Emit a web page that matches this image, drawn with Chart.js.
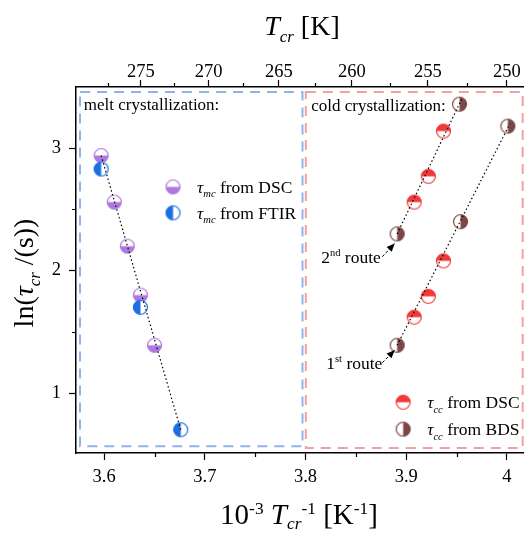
<!DOCTYPE html>
<html><head><meta charset="utf-8">
<script src="https://cdn.jsdelivr.net/npm/chart.js@4/dist/chart.umd.min.js"></script>
<style>html,body{margin:0;padding:0;background:#fff;overflow:hidden;width:524px;height:533px}
#wrap{width:540px;height:533px}</style></head><body><div id="wrap"><canvas id="c" width="540" height="533"></canvas></div>
<script>
// ---- data ----
const meltDscX  = [3.597, 3.610, 3.623, 3.636, 3.650];
const meltDscY  = [2.94, 2.56, 2.20, 1.80, 1.39];
const meltFtirX = [3.597, 3.636, 3.676];
const meltFtirY = [2.83, 1.70, 0.70];
const coldDscX  = [3.908, 3.922, 3.937, 3.908, 3.922, 3.937];
const coldDscY  = [2.56, 2.77, 3.14, 1.62, 1.79, 2.08];
const coldBdsX  = [3.891, 3.953, 3.891, 3.954, 4.001];
const coldBdsY  = [2.30, 3.36, 1.39, 2.40, 3.18];
const meltFitX  = [3.597, 3.676];
const meltFitY  = [2.94, 0.70];
const route2FitX = [3.891, 3.955];
const route2FitY = [2.30, 3.40];
const route1FitX = [3.891, 4.003];
const route1FitY = [1.39, 3.20];
const xTicks = [3.6, 3.7, 3.8, 3.9, 4.0];
const xMinor = [3.65, 3.75, 3.85, 3.95];
const yTicks = [1, 2, 3];
const yMinor = [1.5, 2.5];
const topTicksK = [275, 270, 265, 260, 255, 250];
const topMinorK = [277.5, 272.5, 267.5, 262.5, 257.5, 252.5];

const FAM = '"Liberation Serif","Times New Roman",serif';
const C = {purple:'#ad78e0', blue:'#1b6fe0', red:'#f03a3a', brown:'#7b4747', boxBlue:'#8fb3ec', boxRed:'#f1a1a1'};

function marker(color, half){
  const cv = document.createElement('canvas'); cv.width = 17; cv.height = 17;
  const g = cv.getContext('2d'); const r = 7, c = 8.5;
  g.beginPath(); g.arc(c,c,r,0,Math.PI*2); g.fillStyle='#fff'; g.fill();
  g.save(); g.beginPath(); g.arc(c,c,r,0,Math.PI*2); g.clip();
  g.fillStyle=color;
  if(half==='bottom') g.fillRect(0,c,17,9);
  if(half==='top') g.fillRect(0,0,17,c);
  if(half==='left') g.fillRect(0,0,c,17);
  if(half==='right') g.fillRect(c,0,9,17);
  g.restore();
  g.beginPath(); g.arc(c,c,r,0,Math.PI*2); g.strokeStyle=color; g.lineWidth=1.2; g.stroke();
  return cv;
}
const mk = {
  meltDsc: marker(C.purple,'bottom'),
  meltFtir: marker(C.blue,'left'),
  coldDsc: marker(C.red,'top'),
  coldBds: marker(C.brown,'right')
};
const pts = (xs, ys) => xs.map((x,i)=>({x, y: ys[i]}));

// decorations (data coordinates)
const panels = [
  {x0:3.576, x1:3.797, y0:3.46, y1:0.565, color:C.boxBlue},
  {x0:3.8003, x1:4.0157, y0:3.46, y1:0.55, color:C.boxRed}
];
const panelLabels = [
  {text:'melt crystallization:', x:3.5798, y:3.313},
  {text:'cold crystallization:', x:3.8056, y:3.305}
];
const legends = [
  {img:mk.meltDsc, x:3.6684, y:2.684, sub:'mc', label:' from DSC'},
  {img:mk.meltFtir, x:3.6684, y:2.472, sub:'mc', label:' from FTIR'},
  {img:mk.coldDsc, x:3.897, y:0.925, sub:'cc', label:' from DSC'},
  {img:mk.coldBds, x:3.897, y:0.705, sub:'cc', label:' from BDS'}
];
const routes = [
  {num:'2', sup:'nd', x:3.8156, y:2.064, ax0:3.8763, ay0:2.113, ax1:3.8885, ay1:2.222},
  {num:'1', sup:'st', x:3.8206, y:1.199, ax0:3.8763, ay0:1.248, ax1:3.8885, ay1:1.350}
];

function rich(ctx, segs, x, y, base, align, subK){
  let w = 0; const sk = subK || 0.26;
  const parts = segs.map(s=>{
    const size = (s.sub||s.sup) ? base*0.6 : base;
    const font = (s.it?'italic ':'') + size + 'px ' + FAM;
    ctx.font = font; const mw = ctx.measureText(s.t).width; w += mw;
    return {s, font, mw, dy: s.sub ? base*sk : (s.sup ? -base*0.36 : 0)};
  });
  let cx = align==='center' ? x - w/2 : x;
  ctx.textAlign='left'; ctx.textBaseline='alphabetic'; ctx.fillStyle='#000';
  for(const p of parts){ ctx.font=p.font; ctx.fillText(p.s.t, cx, y+p.dy); cx += p.mw; }
}

const deco = {
  id:'deco',
  beforeDatasetsDraw(chart){
    const {ctx, scales:{x,y}} = chart;
    ctx.save(); ctx.lineWidth=2; ctx.setLineDash([10,7]);
    for(const p of panels){
      ctx.strokeStyle=p.color;
      const l=x.getPixelForValue(p.x0), r=x.getPixelForValue(p.x1), t=y.getPixelForValue(p.y0), b=y.getPixelForValue(p.y1);
      ctx.strokeRect(l,t,r-l,b-t);
    }
    ctx.restore();
  },
  afterDatasetsDraw(chart){
    const {ctx, scales:{x,y}} = chart;
    ctx.save();
    for(const p of panelLabels){
      rich(ctx,[{t:p.text}], x.getPixelForValue(p.x), y.getPixelForValue(p.y), 17, 'left');
    }
    for(const L of legends){
      const px=x.getPixelForValue(L.x), py=y.getPixelForValue(L.y);
      ctx.drawImage(L.img, px-8.5, py-8.5);
      rich(ctx,[{t:'τ',it:true},{t:L.sub,it:true,sub:true},{t:L.label}], px+24, py+6, 17.5, 'left');
    }
    for(const R of routes){
      rich(ctx,[{t:R.num},{t:R.sup,sup:true},{t:' route'}], x.getPixelForValue(R.x), y.getPixelForValue(R.y), 17.5, 'left');
      const x0=x.getPixelForValue(R.ax0), y0=y.getPixelForValue(R.ay0), x1=x.getPixelForValue(R.ax1), y1=y.getPixelForValue(R.ay1);
      ctx.strokeStyle='#000'; ctx.fillStyle='#000'; ctx.lineWidth=1; ctx.setLineDash([3,2]);
      ctx.beginPath(); ctx.moveTo(x0,y0); ctx.lineTo(x1,y1); ctx.stroke(); ctx.setLineDash([]);
      const a=Math.atan2(y1-y0,x1-x0), hl=8, hw=3.5;
      ctx.beginPath(); ctx.moveTo(x1,y1);
      ctx.lineTo(x1-hl*Math.cos(a)+hw*Math.sin(a), y1-hl*Math.sin(a)-hw*Math.cos(a));
      ctx.lineTo(x1-hl*Math.cos(a)-hw*Math.sin(a), y1-hl*Math.sin(a)+hw*Math.cos(a));
      ctx.closePath(); ctx.fill();
    }
    ctx.restore();
  },
  afterDraw(chart){
    const {ctx, chartArea:a, scales:{x,y,x2}} = chart;
    ctx.save(); ctx.strokeStyle='#000'; ctx.lineWidth=1.2; ctx.setLineDash([]);
    ctx.beginPath();
    for(const v of xMinor){ const p=Math.round(x.getPixelForValue(v))+0.5; ctx.moveTo(p,a.bottom); ctx.lineTo(p,a.bottom+4); }
    for(const T of topMinorK){ const p=Math.round(x2.getPixelForValue(1000/T))+0.5; ctx.moveTo(p,a.top); ctx.lineTo(p,a.top-4); }
    for(const v of yMinor){ const p=Math.round(y.getPixelForValue(v))+0.5; ctx.moveTo(a.left,p); ctx.lineTo(a.left-4,p); }
    ctx.stroke();
    const cx=(a.left+a.right)/2;
    rich(ctx,[{t:'T',it:true},{t:'cr',it:true,sub:true},{t:' [K]'}], cx, 35, 28, 'center');
    rich(ctx,[{t:'10'},{t:'-3',sup:true},{t:' '},{t:'T',it:true},{t:'cr',it:true,sub:true},{t:'-1',sup:true},{t:' [K'},{t:'-1',sup:true},{t:']'}], cx-3, 524, 29, 'center', 0.16);
    ctx.translate(25,(a.top+a.bottom)/2+3); ctx.rotate(-Math.PI/2);
    rich(ctx,[{t:'ln('},{t:'τ',it:true},{t:'cr',it:true,sub:true},{t:' /(s))'}], 0, 8, 28, 'center');
    ctx.restore();
  }
};

const tickFont = {family:FAM, size:18.5};
const axisCommon = {
  grid:{drawOnChartArea:false, tickLength:7, color:'#000', tickWidth:1.2},
  border:{color:'#000', width:1.5}
};

new Chart(document.getElementById('c'), {
  type:'scatter',
  data:{datasets:[
    {type:'line', data:pts(meltFitX,meltFitY), borderColor:'#000', borderWidth:1.2, borderDash:[1.5,2.5], pointRadius:0, order:0},
    {type:'line', data:pts(route2FitX,route2FitY), borderColor:'#000', borderWidth:1.2, borderDash:[1.5,2.5], pointRadius:0, order:0},
    {type:'line', data:pts(route1FitX,route1FitY), borderColor:'#000', borderWidth:1.2, borderDash:[1.5,2.5], pointRadius:0, order:0},
    {label:'τmc from DSC', data:pts(meltDscX,meltDscY), pointStyle:mk.meltDsc, pointRadius:7, order:2},
    {label:'τmc from FTIR', data:pts(meltFtirX,meltFtirY), pointStyle:mk.meltFtir, pointRadius:7, order:1},
    {label:'τcc from DSC', data:pts(coldDscX,coldDscY), pointStyle:mk.coldDsc, pointRadius:7, order:1},
    {label:'τcc from BDS', data:pts(coldBdsX,coldBdsY), pointStyle:mk.coldBds, pointRadius:7, order:1}
  ]},
  options:{
    responsive:false, animation:false, devicePixelRatio:1,
    layout:{padding:{left:0, right:12, top:0, bottom:0}},
    plugins:{legend:{display:false}, tooltip:{enabled:false}},
    scales:{
      x:{type:'linear', position:'bottom', min:3.572, max:4.021, ...axisCommon,
        afterBuildTicks:s=>{s.ticks = xTicks.map(v=>({value:v}));},
        afterFit:s=>{s.height=80;},
        ticks:{font:tickFont, color:'#000', padding:6, maxRotation:0, autoSkip:false,
          callback:v=> (v===4 ? '4' : v.toFixed(1))}},
      x2:{type:'linear', position:'top', min:3.572, max:4.021, ...axisCommon,
        afterBuildTicks:s=>{s.ticks = topTicksK.map(T=>({value:1000/T}));},
        afterFit:s=>{s.height=87;},
        ticks:{font:tickFont, color:'#000', padding:-3, maxRotation:0, autoSkip:false,
          callback:(v,i)=> String(topTicksK[i])}},
      y:{type:'linear', min:0.51, max:3.5, ...axisCommon,
        afterBuildTicks:s=>{s.ticks = yTicks.map(v=>({value:v}));},
        afterFit:s=>{s.width=76;},
        ticks:{font:tickFont, color:'#000', padding:8, autoSkip:false, callback:v=>String(v)}}
    }
  },
  plugins:[deco]
});
</script></body></html>
